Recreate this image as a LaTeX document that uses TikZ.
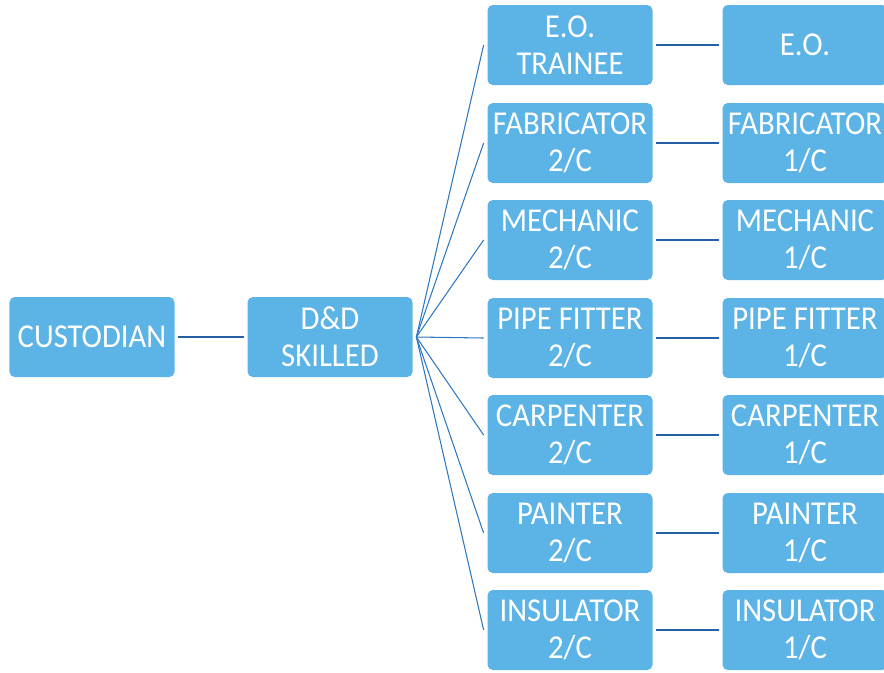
\documentclass[tikz,border=0pt]{standalone}
\usepackage{fontspec}
\setmainfont{Carlito}[FakeStretch=0.92]
\definecolor{BoxBlue}{RGB}{92,179,229}
\definecolor{LineBlue}{RGB}{35,95,165}
\definecolor{FanBlue}{RGB}{45,120,190}
\usepackage{tikz}
\usetikzlibrary{positioning}

\begin{document}
\begin{tikzpicture}[
        box/.style={fill=BoxBlue,rounded corners=3pt,
                    minimum width=3.3cm,minimum height=1.6cm,inner sep=1pt,
                    align=center,text=white,font=\fontsize{19}{21}\selectfont},
        link/.style={LineBlue,line width=1.2pt},
        fan/.style={FanBlue,line width=0.6pt}]
        \useasboundingbox (0,0) rectangle (17.68,-13.44);
        \node[box] (cust) at (1.84,-6.74) {CUSTODIAN};
        \node[box] (dd) at (6.60,-6.74) {D\&D\\SKILLED};
        % second class column
        \node[box] (eoT)  at (11.40,-0.90)  {E.O.\\TRAINEE};
        \node[box] (fab2) at (11.40,-2.86)  {FABRICATOR\\2/C};
        \node[box] (mec2) at (11.40,-4.80)  {MECHANIC\\2/C};
        \node[box] (pip2) at (11.40,-6.76)  {PIPE FITTER\\2/C};
        \node[box] (car2) at (11.40,-8.70)  {CARPENTER\\2/C};
        \node[box] (pai2) at (11.40,-10.66) {PAINTER\\2/C};
        \node[box] (ins2) at (11.40,-12.60) {INSULATOR\\2/C};
        % first class column
        \node[box] (eo)   at (16.10,-0.90)  {E.O.};
        \node[box] (fab1) at (16.10,-2.86)  {FABRICATOR\\1/C};
        \node[box] (mec1) at (16.10,-4.80)  {MECHANIC\\1/C};
        \node[box] (pip1) at (16.10,-6.76)  {PIPE FITTER\\1/C};
        \node[box] (car1) at (16.10,-8.70)  {CARPENTER\\1/C};
        \node[box] (pai1) at (16.10,-10.66) {PAINTER\\1/C};
        \node[box] (ins1) at (16.10,-12.60) {INSULATOR\\1/C};
        \draw[link] ([xshift=2pt]cust.east) -- ([xshift=-2pt]dd.west);
        \foreach \a in {eoT,fab2,mec2,pip2,car2,pai2,ins2}
          \draw[fan] ([xshift=2pt]dd.east) -- ([xshift=-2pt]\a.west);
        \draw[link] ([xshift=2pt]eoT.east)  -- ([xshift=-2pt]eo.west);
        \draw[link] ([xshift=2pt]fab2.east) -- ([xshift=-2pt]fab1.west);
        \draw[link] ([xshift=2pt]mec2.east) -- ([xshift=-2pt]mec1.west);
        \draw[link] ([xshift=2pt]pip2.east) -- ([xshift=-2pt]pip1.west);
        \draw[link] ([xshift=2pt]car2.east) -- ([xshift=-2pt]car1.west);
        \draw[link] ([xshift=2pt]pai2.east) -- ([xshift=-2pt]pai1.west);
        \draw[link] ([xshift=2pt]ins2.east) -- ([xshift=-2pt]ins1.west);
      \end{tikzpicture}
\end{document}
